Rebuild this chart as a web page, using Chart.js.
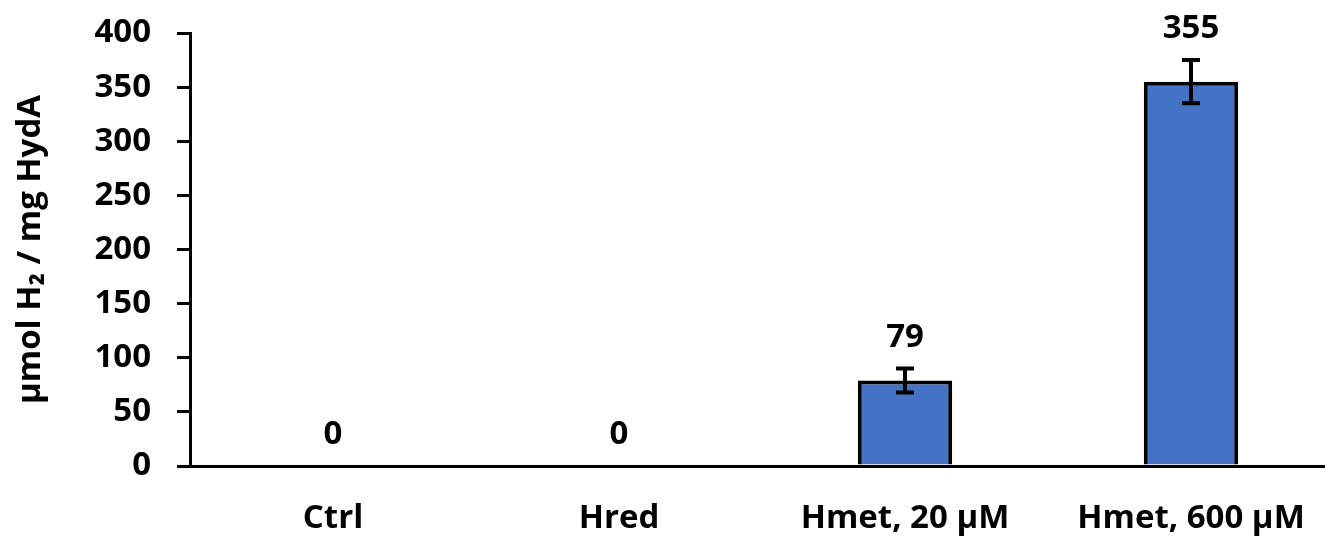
<!DOCTYPE html>
<html>
<head>
<meta charset="utf-8">
<title>H2 production by HydA</title>
<script src="https://cdn.jsdelivr.net/npm/chart.js@4/dist/chart.umd.min.js"></script>
<style>
  html, body { margin: 0; padding: 0; overflow: hidden; background: #ffffff; }
  #wrap { width: 1345px; height: 538px; }
</style>
</head>
<body>
<div id="wrap"><canvas id="chart" width="1345" height="538"></canvas></div>
<script>
// Samples and measured H2 yield (µmol H2 per mg HydA) with standard deviations
const categories = ['Ctrl', 'Hred', 'Hmet, 20 µM', 'Hmet, 600 µM'];
const h2Yield = [0, 0, 79, 355];
const h2Error = [0, 0, 11, 20];

// Value axis settings
const yMin = 0;
const yMax = 400;
const yStep = 50;

const FONT_FAMILY = "'Open Sans', 'Noto Sans', 'DejaVu Sans', sans-serif";
const INK = '#000000';
const BAR_BLUE = '#4472C4';

// Error bars and value labels above each bar
const barAnnotations = {
  id: 'barAnnotations',
  afterDatasetsDraw(chart) {
    const { ctx, scales: { y } } = chart;
    const meta = chart.getDatasetMeta(0);
    ctx.save();
    meta.data.forEach((bar, i) => {
      const v = h2Yield[i];
      const e = h2Error[i];
      const x = bar.x;
      if (e > 0) {
        const yTop = y.getPixelForValue(v + e);
        const yBot = y.getPixelForValue(v - e);
        const cap = 9;
        ctx.strokeStyle = INK;
        ctx.lineWidth = 4;
        ctx.lineCap = 'butt';
        ctx.beginPath();
        ctx.moveTo(x, yTop);
        ctx.lineTo(x, yBot);
        ctx.moveTo(x - cap, yTop);
        ctx.lineTo(x + cap, yTop);
        ctx.moveTo(x - cap, yBot);
        ctx.lineTo(x + cap, yBot);
        ctx.stroke();
      }
      ctx.fillStyle = INK;
      ctx.font = `bold 33px ${FONT_FAMILY}`;
      ctx.textAlign = 'center';
      ctx.textBaseline = 'middle';
      ctx.fillText(String(v), x, y.getPixelForValue(v + e) - 31);
    });
    ctx.restore();
  }
};

new Chart(document.getElementById('chart'), {
  type: 'bar',
  data: {
    labels: categories,
    datasets: [{
      data: h2Yield,
      backgroundColor: BAR_BLUE,
      borderColor: INK,
      borderWidth: 4,
      borderSkipped: 'start',
      barPercentage: 0.33,
      categoryPercentage: 1.0
    }]
  },
  options: {
    responsive: false,
    animation: false,
    devicePixelRatio: 1,
    layout: { padding: { top: 33, right: 11, bottom: 0, left: 0 } },
    plugins: {
      legend: { display: false },
      tooltip: { enabled: false }
    },
    scales: {
      x: {
        grid: { display: false, drawTicks: false },
        border: { display: true, color: INK, width: 3 },
        ticks: {
          color: INK,
          padding: 33,
          maxRotation: 0,
          autoSkip: false,
          font: { family: FONT_FAMILY, size: 33, weight: 'bold' }
        },
        afterFit(scale) { scale.height = 72; scale.paddingLeft = 0; scale.paddingRight = 0; }
      },
      y: {
        min: yMin,
        max: yMax,
        grid: {
          display: true,
          drawOnChartArea: false,
          drawTicks: true,
          tickLength: 13,
          color: INK,
          lineWidth: 3
        },
        border: { display: true, color: INK, width: 3 },
        ticks: {
          stepSize: yStep,
          color: INK,
          padding: 26,
          font: { family: FONT_FAMILY, size: 33, weight: 'bold' }
        },
        title: {
          display: true,
          text: 'µmol H₂ / mg HydA',
          color: INK,
          padding: { top: 11, bottom: 0 },
          font: { family: FONT_FAMILY, size: 33, weight: 'bold' }
        },
        afterFit(scale) { scale.width = 190; scale.paddingTop = 0; scale.paddingBottom = 0; }
      }
    }
  },
  plugins: [barAnnotations]
});
</script>
</body>
</html>
